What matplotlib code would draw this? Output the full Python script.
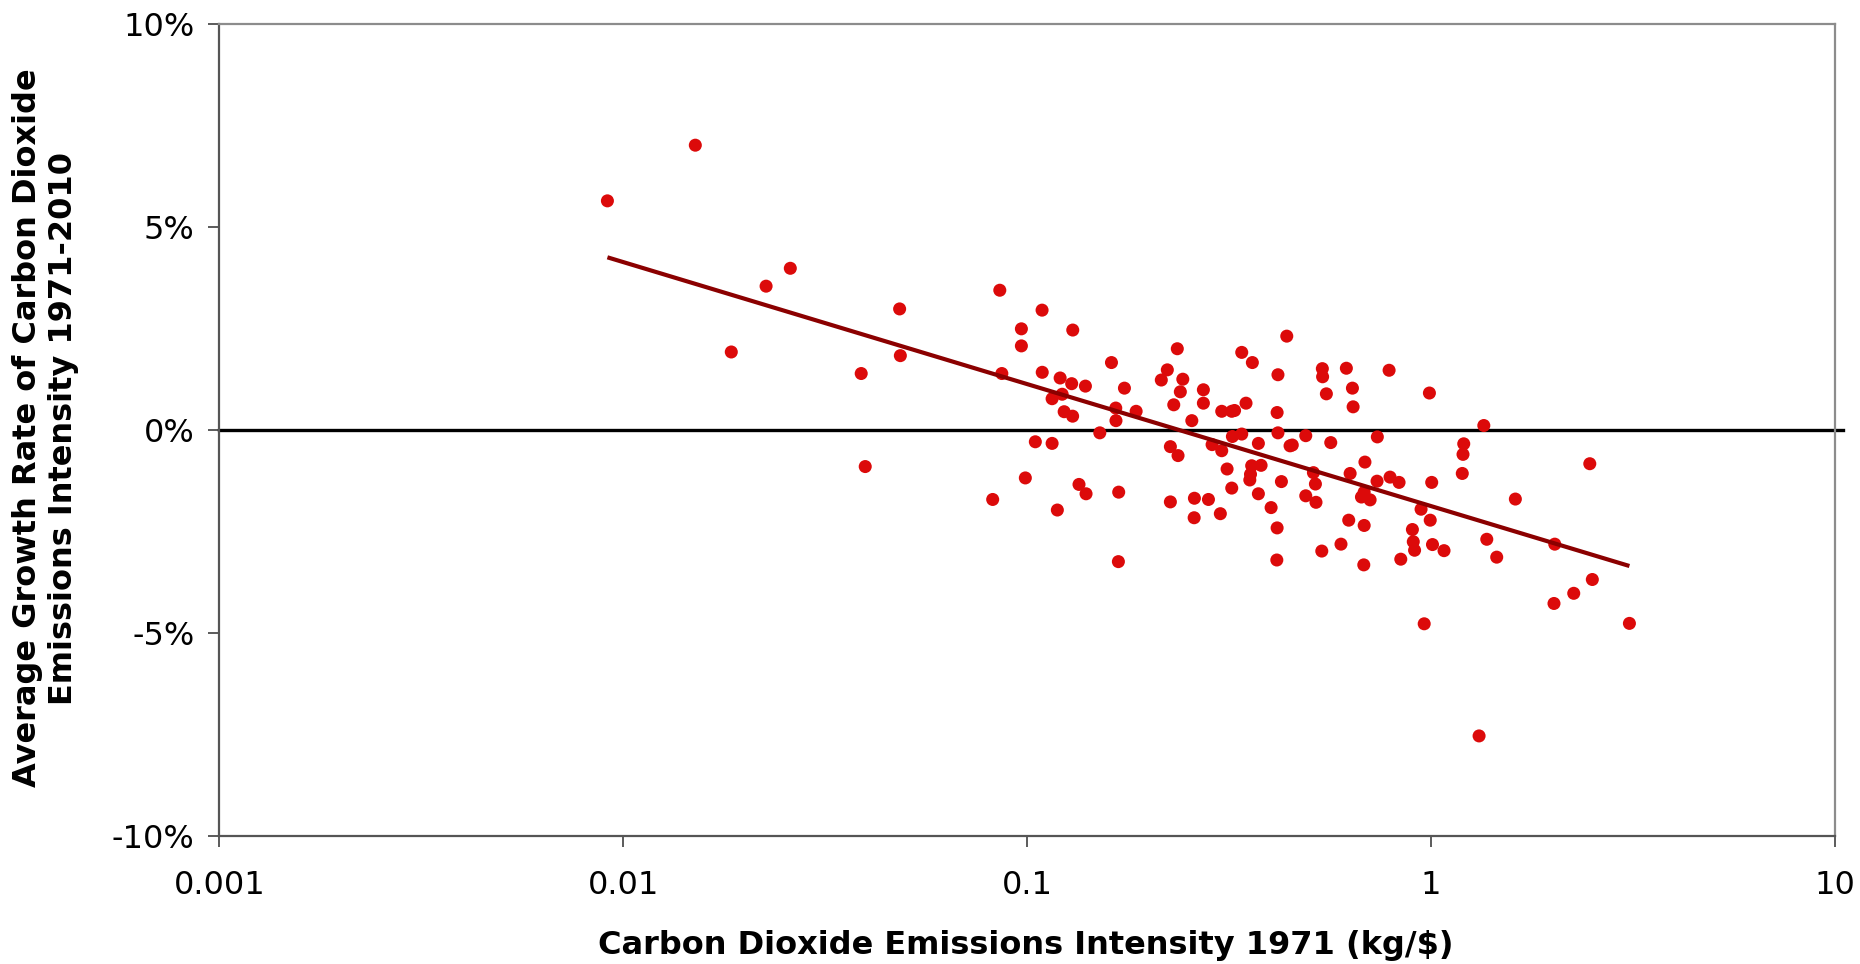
import numpy as np
import matplotlib.pyplot as plt
from matplotlib.ticker import FixedLocator, NullLocator

# CO2 intensity in 1971 (kg/$) and average growth rate 1971-2010 (%)
intensity_1971 = [
    0.00913, 0.01507, 0.0185, 0.02256, 0.0259, 0.0388, 0.0397, 0.0483, 0.0485,
    0.0821, 0.0855, 0.0865, 0.0967, 0.0967, 0.0989, 0.1047, 0.1088, 0.1089,
    0.1152, 0.1152, 0.1187,
    0.1296, 0.1206, 0.1288, 0.1393, 0.122, 0.1234, 0.1295, 0.1616, 0.174,
    0.1656, 0.1658, 0.186, 0.1512, 0.1343, 0.1398, 0.1684, 0.1681, 0.2147,
    0.2222, 0.2352, 0.2427, 0.2393, 0.2305, 0.2729, 0.2729, 0.2555, 0.2261,
    0.2362, 0.2261, 0.2593, 0.2589, 0.2809, 0.3006, 0.303, 0.3208, 0.326,
    0.3396, 0.3608, 0.348, 0.322, 0.3396, 0.2868, 0.303, 0.3734, 0.3124,
    0.3594, 0.3792, 0.3556, 0.357, 0.3208, 0.3734, 0.4015, 0.4155, 0.4148,
    0.4258, 0.4155, 0.4175, 0.4175, 0.439, 0.4473, 0.453,
    0.4892, 0.5641, 0.5377, 0.5385, 0.5502, 0.6166, 0.6383, 0.6408, 0.7867,
    0.99, 0.7357, 1.35, 1.204, 1.199, 1.194, 2.47, 1.616, 0.6855, 0.63,
    0.511, 0.5169, 0.4892, 0.5186, 0.7345, 0.791, 0.8327, 1.003, 0.672,
    0.6825, 0.706, 0.944, 0.9946, 0.8985, 0.903, 0.9097, 1.0075, 1.076,
    0.8409, 0.625, 0.6825, 0.598, 0.536, 0.681, 1.373, 1.453, 2.023,
    2.014, 2.254, 2.506, 3.096, 0.961, 1.314,
]
growth_rate = [
    5.64, 7.01, 1.92, 3.54, 3.98, 1.39, -0.90, 2.98, 1.83,
    -1.71, 3.44, 1.39, 2.49, 2.07, -1.18, -0.29, 2.95, 1.42,
    -0.33, 0.77, -1.97,
    2.46, 1.28, 1.14, 1.08, 0.88, 0.45, 0.34, 1.66, 1.03,
    0.54, 0.23, 0.46, -0.07, -1.34, -1.57, -1.53, -3.24, 1.23,
    1.48, 2.00, 1.25, 0.94, 0.62, 0.99, 0.66, 0.23, -0.41,
    -0.63, -1.77, -1.68, -2.16, -1.71, -2.06, 0.46, 0.46, 0.48,
    1.91, 1.66, 0.66, -0.16, -0.10, -0.36, -0.51, -0.33, -0.96,
    -0.88, -0.87, -1.23, -1.09, -1.43, -1.57, -1.91, -2.41, -3.20,
    -1.27, 0.43, -0.07, 1.36, 2.31, -0.39, -0.37,
    -0.14, -0.31, 1.51, 1.31, 0.89, 1.52, 1.03, 0.57, 1.47,
    0.91, -0.17, 0.11, -0.34, -0.60, -1.07, -0.83, -1.70, -0.79, -1.07,
    -1.05, -1.33, -1.62, -1.78, -1.26, -1.16, -1.29, -1.29, -1.65,
    -1.53, -1.72, -1.95, -2.22, -2.45, -2.75, -2.96, -2.82, -2.97,
    -3.18, -2.22, -2.35, -2.81, -2.98, -3.32, -2.69, -3.13, -2.81,
    -4.27, -4.02, -3.68, -4.76, -4.77, -7.53,
]

x_ticks = [0.001, 0.01, 0.1, 1, 10]
x_tick_labels = ["0.001", "0.01", "0.1", "1", "10"]
y_ticks = [-10, -5, 0, 5, 10]
y_tick_labels = ["-10%", "-5%", "0%", "5%", "10%"]

x = np.array(intensity_1971)
y = np.array(growth_rate)

# log trendline, like Excel's
slope, intercept = np.polyfit(np.log10(x), y, 1)
xf = np.array([x.min(), x.max()])
yf = intercept + slope * np.log10(xf)

fig = plt.figure(figsize=(18.6, 9.64), dpi=100)
ax = fig.add_axes([0.118, 0.1325, 0.8686, 0.8429])

ax.axhline(0, xmin=0, xmax=1.005, color="black", lw=2.4, clip_on=False, zorder=2)
ax.scatter(x, y, s=88, color="#dc0a0a", edgecolors="none", zorder=3)
ax.plot(xf, yf, color="#8b0000", lw=3, zorder=4, solid_capstyle="butt")

ax.set_xscale("log")
ax.set_xlim(0.001, 10)
ax.set_ylim(-10, 10)
ax.xaxis.set_major_locator(FixedLocator(x_ticks))
ax.xaxis.set_minor_locator(NullLocator())
ax.set_xticklabels(x_tick_labels)
ax.set_yticks(y_ticks)
ax.set_yticklabels(y_tick_labels)

ax.tick_params(axis="both", direction="out", length=8, width=1.2, colors="#404040",
               labelcolor="black", labelsize=23)
ax.tick_params(axis="x", pad=16)
ax.tick_params(axis="y", pad=10)

for side in ["left", "bottom"]:
    ax.spines[side].set_color("#555555")
    ax.spines[side].set_linewidth(1.6)
for side in ["top", "right"]:
    ax.spines[side].set_color("#8c8c8c")
    ax.spines[side].set_linewidth(1.6)

fig.text(0.5516, 0.0197, "Carbon Dioxide Emissions Intensity 1971 (kg/$)", fontsize=23,
         fontweight="bold", ha="center", va="center")
fig.text(0.0246, 0.556, "Average Growth Rate of Carbon Dioxide\nEmissions Intensity 1971-2010",
         fontsize=23, fontweight="bold", rotation=90, ha="center", va="center",
         multialignment="center", linespacing=1.2)

fig.savefig("out.png", dpi=100, facecolor="white")
